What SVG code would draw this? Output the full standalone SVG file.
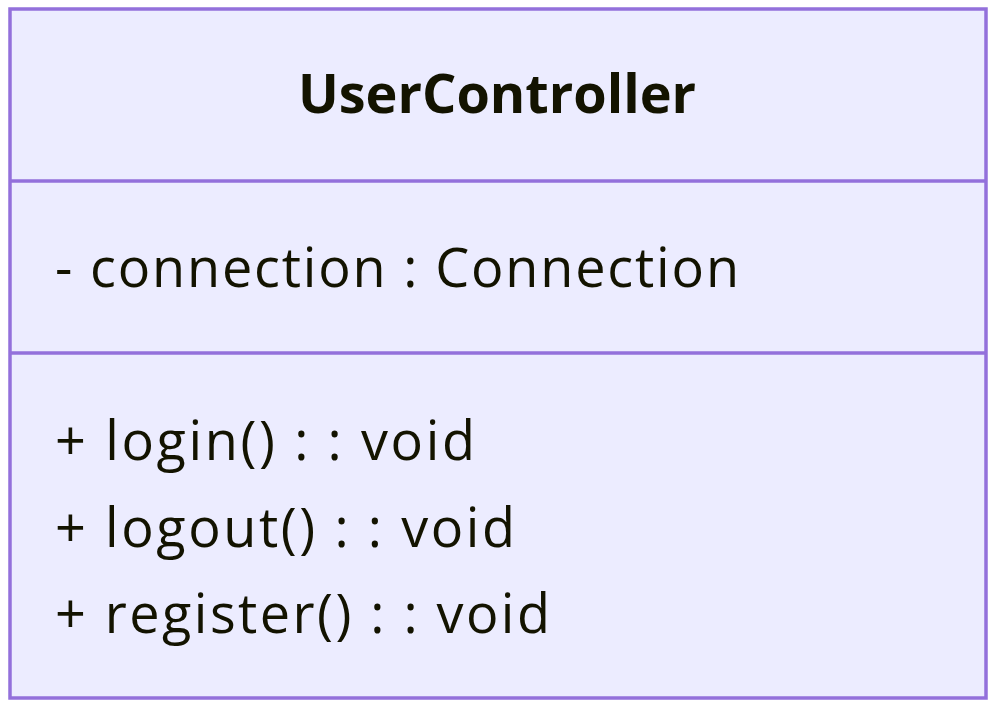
<svg xmlns="http://www.w3.org/2000/svg" width="997" height="705" viewBox="0 0 997 705">
<style>
.box{fill:#ECECFF;stroke:#9370DB;stroke-width:3.5}
.div{stroke:#9370DB;stroke-width:3.5}
.t{font-family:"Open Sans","DejaVu Sans",sans-serif;fill:#131300;font-size:54px}
.title{font-weight:bold;text-anchor:middle}
</style>
<rect width="997" height="705" fill="#ffffff"/>
<g id="UserController">
<rect class="box" x="10" y="9" width="976" height="689"/>
<line class="div" x1="10" y1="181" x2="986" y2="181"/>
<line class="div" x1="10" y1="353" x2="986" y2="353"/>
<text class="t title" x="497" y="113">UserController</text>
<text class="t" x="55" y="287" textLength="684" lengthAdjust="spacing">- connection : Connection</text>
<text class="t" x="55" y="460" textLength="420" lengthAdjust="spacing">+ login() : : void</text>
<text class="t" x="55" y="547" textLength="460" lengthAdjust="spacing">+ logout() : : void</text>
<text class="t" x="55" y="633" textLength="495" lengthAdjust="spacing">+ register() : : void</text>
</g>
<g id="connectors"/>
</svg>
